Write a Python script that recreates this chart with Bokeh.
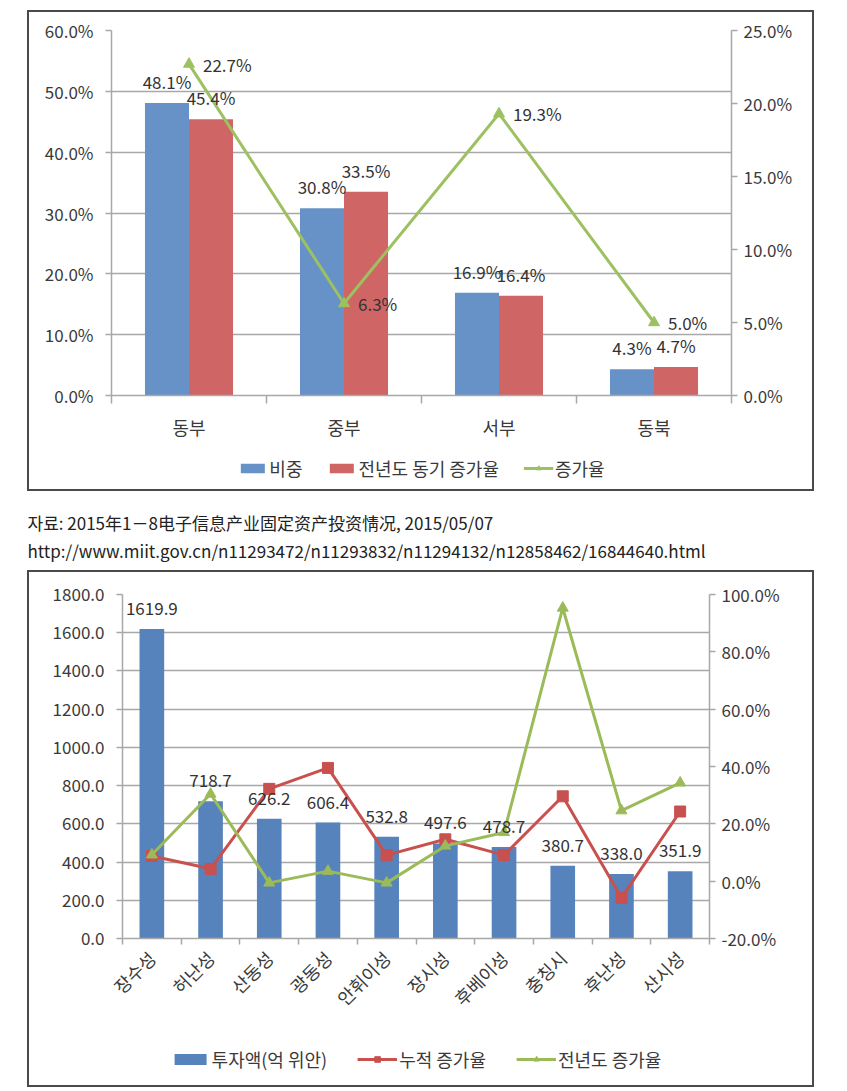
import math
from bokeh.plotting import figure
from bokeh.models import (Range1d, LinearAxis, FixedTicker,
                          PrintfTickFormatter, ColumnDataSource, LabelSet, Legend, LegendItem,
                          Label, Spacer, Grid)
from bokeh.layouts import column, row
from bokeh.transform import dodge
from bokeh.embed import file_html
from bokeh.resources import INLINE
from bokeh.core.properties import value

# ---------------- data: chart 1 ----------------
regions = ["동부", "중부", "서부", "동북"]
share = [48.1, 30.8, 16.9, 4.3]                 # 비중
same_period_growth = [45.4, 33.5, 16.4, 4.7]    # 전년도 동기 증가율
growth = [22.7, 6.3, 19.3, 5.0]                 # 증가율 (right axis)
left_ticks1 = [0, 10, 20, 30, 40, 50, 60]
right_ticks1 = [0, 5, 10, 15, 20, 25]
legend1 = ["비중", "전년도 동기 증가율", "증가율"]

# ---------------- data: chart 2 ----------------
provinces = ["장수성", "허난성", "산동성", "광동성", "안휘이성", "장시성", "후베이성", "충칭시", "후난성", "산시성"]
investment = [1619.9, 718.7, 626.2, 606.4, 532.8, 497.6, 478.7, 380.7, 338.0, 351.9]   # 투자액(억 위안)
cum_growth = [8.8, 4.3, 32.2, 39.5, 9.1, 14.6, 9.1, 29.6, -5.8, 24.3]                 # 누적 증가율
prev_growth = [9.2, 30.4, -0.6, 3.5, -0.6, 12.3, 17.0, 95.3, 24.6, 34.3]              # 전년도 증가율
left_ticks2 = [0, 200, 400, 600, 800, 1000, 1200, 1400, 1600, 1800]
right_ticks2 = [-20, 0, 20, 40, 60, 80, 100]
legend2 = ["투자액(억 위안)", "누적 증가율", "전년도 증가율"]

source_line1 = "자료: 2015年1－8电子信息产业固定资产投资情况, 2015/05/07"
source_line2 = "http://www.miit.gov.cn/n11293472/n11293832/n11294132/n12858462/16844640.html"

FONT = "Noto Sans CJK KR"
BLUE1, RED1, GREEN1 = "#6792C7", "#CF6665", "#9DC161"
BLUE2, RED2, GREEN2 = "#5783BC", "#C8504E", "#9BBB59"
GRID = "#A8A8A8"
TXT = "#3A3A3A"
BORDER = {"border": "2px solid #4A4A4A"}
NAN = float("nan")


def base_fig(w, h, n, yr, ml, mr, mt, mb):
    p = figure(width=w, height=h, x_range=Range1d(0, n), y_range=yr, output_backend="svg",
               toolbar_location=None, x_axis_location=None, y_axis_location=None,
               min_border_left=ml, min_border_right=mr, min_border_top=mt, min_border_bottom=mb,
               outline_line_color=None)
    p.center = [r for r in p.center if not isinstance(r, Grid)]
    return p


def plain_fig(w, h):
    p = figure(width=w, height=h, x_range=Range1d(0, 1), y_range=Range1d(0, 1),
               output_backend="svg", toolbar_location=None, x_axis_location=None,
               y_axis_location=None, min_border=0, outline_line_color=None)
    p.center = [r for r in p.center if not isinstance(r, Grid)]
    return p


def style_axis(ax, size):
    ax.axis_line_color = GRID
    ax.axis_line_width = 1.5
    ax.major_tick_line_color = GRID
    ax.major_tick_line_width = 1.5
    ax.major_tick_in = 0
    ax.major_tick_out = 6
    ax.minor_tick_line_color = None
    ax.major_label_text_font = FONT
    ax.major_label_text_font_size = size
    ax.major_label_text_color = TXT


def category_axes(p, cats, tick_out, font_size, standoff, orientation="horizontal"):
    n = len(cats)
    edges = list(range(n + 1))
    ex = LinearAxis(ticker=FixedTicker(ticks=edges),
                    major_label_overrides={e: "" for e in edges})
    style_axis(ex, "10px")
    ex.major_tick_out = tick_out
    ex.major_label_standoff = 0
    p.add_layout(ex, "below")
    centers = [i + 0.5 for i in range(n)]
    cx = LinearAxis(ticker=FixedTicker(ticks=centers),
                    major_label_overrides={c: name for c, name in zip(centers, cats)},
                    axis_line_color=None, major_tick_line_color=None, minor_tick_line_color=None,
                    major_label_text_font=FONT, major_label_text_font_size=font_size,
                    major_label_text_color=TXT, major_label_standoff=standoff,
                    major_label_orientation=orientation)
    p.add_layout(cx, "below")
    return centers


def legend_strip(h, names, styles, glyph_width, glyph_height, spacing):
    # legend-only strip: the proxy renderers hold NaN rows, so they draw nothing themselves
    pl = plain_fig(783, h)
    items = []
    for name, st in zip(names, styles):
        rs = []
        if st[0] == "bar":
            rs.append(pl.vbar(x=[NAN], top=[NAN], width=1, fill_color=st[1], line_color=None))
        else:
            rs.append(pl.line(x=[NAN], y=[NAN], line_color=st[1], line_width=3))
            rs.append(pl.scatter(x=[NAN], y=[NAN], marker=st[2], size=11,
                                 fill_color=st[1], line_color=st[1]))
        items.append(LegendItem(label=name, renderers=rs))
    leg = Legend(items=items, orientation="horizontal", location="center",
                 label_text_font=FONT, label_text_font_size="18px", label_text_color=TXT,
                 glyph_width=glyph_width, glyph_height=glyph_height, label_standoff=2,
                 spacing=spacing, padding=0, margin=0, border_line_color=None,
                 background_fill_alpha=0)
    pl.add_layout(leg)
    return pl


# ======================= chart 1 =======================
p1 = base_fig(783, 435, len(regions), Range1d(0, 60), 82, 81, 18, 52)
p1.extra_y_ranges = {"right": Range1d(0, 25)}

ly1 = LinearAxis(ticker=FixedTicker(ticks=left_ticks1), formatter=PrintfTickFormatter(format="%.1f%%"))
style_axis(ly1, "17px")
ly1.major_label_standoff = 12
p1.add_layout(ly1, "left")
ry1 = LinearAxis(y_range_name="right", ticker=FixedTicker(ticks=right_ticks1),
                 formatter=PrintfTickFormatter(format="%.1f%%"))
style_axis(ry1, "17px")
ry1.major_label_standoff = 6
p1.add_layout(ry1, "right")
p1.add_layout(Grid(dimension=1, ticker=ly1.ticker, grid_line_color=GRID, grid_line_width=1.5))

pos1 = category_axes(p1, regions, 8, "18px", 4)

src1 = ColumnDataSource(dict(
    x=pos1, share=share, spg=same_period_growth, growth=growth,
    share_lbl=[f"{v:.1f}%" for v in share],
    spg_lbl=[f"{v:.1f}%" for v in same_period_growth],
    growth_lbl=[f"{v:.1f}%" for v in growth]))

p1.vbar(x=dodge("x", -0.142), top="share", width=0.284,
        source=src1, fill_color=BLUE1, line_color=None)
p1.vbar(x=dodge("x", 0.142), top="spg", width=0.284,
        source=src1, fill_color=RED1, line_color=None)
p1.line(x="x", y="growth", y_range_name="right", source=src1,
        line_color=GREEN1, line_width=3)
p1.scatter(x="x", y="growth", y_range_name="right", source=src1, marker="triangle",
           size=11, fill_color=GREEN1, line_color=GREEN1)

lab_kw = dict(text_font=value(FONT), text_font_size=value("17px"), text_color="#333333")
p1.add_layout(LabelSet(x=dodge("x", -0.142), y="share", text="share_lbl",
                       source=src1, text_align="center", text_baseline="alphabetic",
                       y_offset=14, **lab_kw))
p1.add_layout(LabelSet(x=dodge("x", 0.142), y="spg", text="spg_lbl",
                       source=src1, text_align="center", text_baseline="alphabetic",
                       y_offset=14, **lab_kw))
p1.add_layout(LabelSet(x="x", y="growth", y_range_name="right", text="growth_lbl",
                       source=src1, text_align="left", text_baseline="middle",
                       x_offset=14, **lab_kw))

pl1 = legend_strip(42, legend1, [("bar", BLUE1), ("bar", RED1), ("line", GREEN1, "triangle")],
                   30, 12, 24)
block1 = column(p1, pl1, styles=BORDER)

# ======================= source text =======================
pt = plain_fig(787, 79)
pt.add_layout(Label(x=0, y=48, x_units="screen", y_units="screen", text=source_line1,
                    text_font=FONT, text_font_size="17px", text_color="#222222",
                    text_baseline="middle"))
pt.add_layout(Label(x=0, y=20, x_units="screen", y_units="screen", text=source_line2,
                    text_font=FONT, text_font_size="17px", text_color="#222222",
                    text_baseline="middle"))

# ======================= chart 2 =======================
p2 = base_fig(783, 461, len(provinces), Range1d(0, 1800), 93, 103, 22, 95)
p2.extra_y_ranges = {"right": Range1d(-20, 100)}

ly2 = LinearAxis(ticker=FixedTicker(ticks=left_ticks2), formatter=PrintfTickFormatter(format="%.1f"))
style_axis(ly2, "17px")
ly2.major_label_standoff = 12
p2.add_layout(ly2, "left")
ry2 = LinearAxis(y_range_name="right", ticker=FixedTicker(ticks=right_ticks2),
                 formatter=PrintfTickFormatter(format="%.1f%%"))
style_axis(ry2, "17px")
ry2.major_label_standoff = 6
p2.add_layout(ry2, "right")
p2.add_layout(Grid(dimension=1, ticker=ly2.ticker, grid_line_color=GRID, grid_line_width=1.5))

pos2 = category_axes(p2, provinces, 6, "18px", 4, math.pi / 4)

src2 = ColumnDataSource(dict(
    x=pos2, inv=investment, cum=cum_growth, prev=prev_growth,
    inv_lbl=[f"{v:.1f}" for v in investment]))

p2.vbar(x="x", top="inv", width=0.42, source=src2, fill_color=BLUE2, line_color=None)
p2.line(x="x", y="cum", y_range_name="right", source=src2, line_color=RED2, line_width=3)
p2.scatter(x="x", y="cum", y_range_name="right", source=src2, marker="square",
           size=11, fill_color=RED2, line_color=RED2)
p2.line(x="x", y="prev", y_range_name="right", source=src2, line_color=GREEN2, line_width=3)
p2.scatter(x="x", y="prev", y_range_name="right", source=src2, marker="triangle",
           size=11, fill_color=GREEN2, line_color=GREEN2)

p2.add_layout(LabelSet(x="x", y="inv", text="inv_lbl", source=src2, text_align="center",
                       text_baseline="alphabetic", y_offset=14, **lab_kw))

pl2 = legend_strip(52, legend2, [("bar", BLUE2), ("line", RED2, "square"),
                                 ("line", GREEN2, "triangle")], 40, 14, 30)
block2 = column(p2, pl2, styles=BORDER)

layout = column(Spacer(height=10),
                row(Spacer(width=27), block1),
                row(Spacer(width=27), pt),
                row(Spacer(width=27), block2))

open("out.html", "w").write(file_html(layout, INLINE))
